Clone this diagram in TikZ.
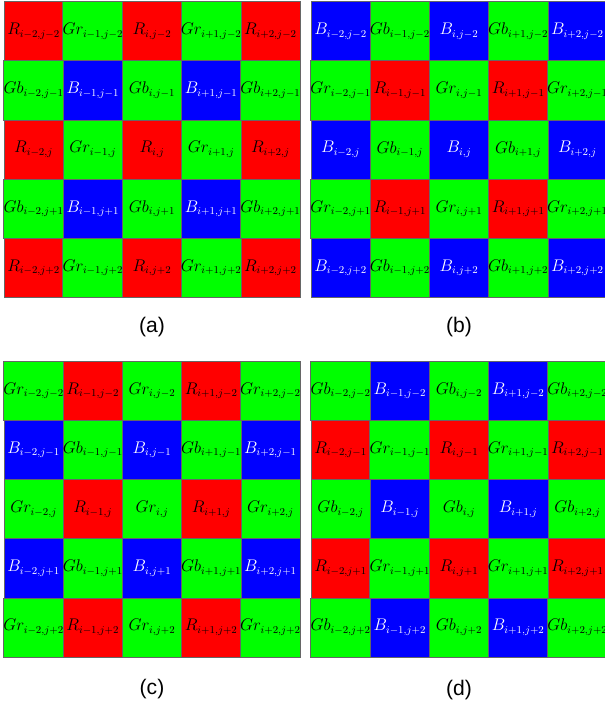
\documentclass[tikz,border=0pt]{standalone}
\usepackage{fontspec}
\usepackage{tikz}
\usetikzlibrary{positioning}
\newfontfamily\capfont{Liberation Sans}
\DeclareMathSizes{15}{15}{8.8}{7}
\definecolor{PixRed}{RGB}{255,0,0}
\definecolor{PixGreen}{RGB}{0,255,0}
\definecolor{PixBlue}{RGB}{0,0,255}
% offset of the index: 0..4 -> -2..+2
\newcommand\offs[2]{\ifcase#2 #1-2\or #1-1\or #1\or #1+1\or #1+2\fi}
\tikzset{
  cellbox/.style={draw=black!60, line width=0.4pt, minimum size=1.776cm, inner sep=0pt,
    font=\fontsize{15}{18}\selectfont},
  cellR/.style={cellbox, fill=PixRed, text=black},
  cellGr/.style={cellbox, fill=PixGreen, text=black},
  cellGb/.style={cellbox, fill=PixGreen, text=black},
  cellB/.style={cellbox, fill=PixBlue, text=white},
  caption/.style={font=\capfont\fontsize{18}{20}\selectfont},
}

\begin{document}
\begin{tikzpicture}[x=0.03cm, y=-0.03cm]
  \useasboundingbox (0,0) rectangle (604,706);
  \foreach \g/\ox/\oy/\ee/\eo/\oe/\oo in {a/4/1.5/R/Gr/Gb/B, b/311/1.5/B/Gb/Gr/R,
      c/4/361/Gr/R/B/Gb, d/311/361/Gb/B/R/Gr}
    \foreach \r in {0,...,4}
      \foreach \c in {0,...,4} {
        \pgfmathtruncatemacro\rp{mod(\r,2)}
        \pgfmathtruncatemacro\cp{mod(\c,2)}
        \ifnum\rp=0 \ifnum\cp=0 \edef\s{\ee}\else\edef\s{\eo}\fi
        \else \ifnum\cp=0 \edef\s{\oe}\else\edef\s{\oo}\fi\fi
        \node[cell\s] (\g-\r-\c) at (\ox+29.6+59.2*\c, \oy+29.6+59.2*\r)
          {$\s_{\offs{i}{\c},\offs{j}{\r}}$};
      }
  % captions
  \node[caption] (capA) at (152,327) {(a)};
  \node[caption] (capB) at (459,327) {(b)};
  \node[caption] (capC) at (152,689) {(c)};
  \node[caption] (capD) at (459,690) {(d)};
\end{tikzpicture}
\end{document}
